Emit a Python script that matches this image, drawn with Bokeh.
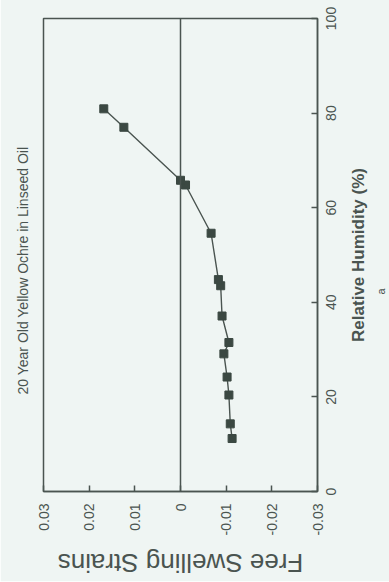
from bokeh.embed import file_html
from bokeh.models import FixedTicker, Range1d, Span, Title
from bokeh.plotting import figure
from bokeh.resources import INLINE

# Free swelling strain of 20 year old yellow ochre in linseed oil vs. relative humidity
rh = [11.2, 14.3, 20.4, 24.2, 29.1, 31.5, 37.1, 43.5, 44.8, 54.6, 64.8, 65.8, 77.0, 80.9]
strain = [-0.0113, -0.0109, -0.0106, -0.0102, -0.0095, -0.0106, -0.0091,
          -0.0088, -0.0083, -0.0067, -0.0011, 0.0000, 0.0124, 0.0168]

rh_ticks = [0, 20, 40, 60, 80, 100]
strain_ticks = [-0.03, -0.02, -0.01, 0.0, 0.01, 0.02, 0.03]
strain_tick_labels = ["-0.03", "-0.02", "-0.01", "0", "0.01", "0.02", "0.03"]

title_text = "20 Year Old Yellow Ochre in Linseed Oil"
rh_label = "Relative Humidity (%)"
strain_label = "Free Swelling Strains"
panel_tag = "a"

INK = "#4a5450"
MARK = "#3b4842"
BG = "#eff5f3"
FONT = "Liberation Sans"

# The chart is drawn landscape (582 x 389) and shown turned a quarter turn
# counter-clockwise.  Bokeh sizes its canvas from the element's on-screen box,
# which the turn swaps, so the element itself is declared portrait.
PAGE_W, PAGE_H = 389, 582
p = figure(width=PAGE_W, height=PAGE_H,
           x_range=Range1d(0, 100), y_range=Range1d(-0.03, 0.03),
           output_backend="svg", toolbar_location=None,
           min_border_left=87, min_border_right=19,
           min_border_top=43, min_border_bottom=72)
p.styles = {"transform": f"translate(0px, {PAGE_H}px) rotate(-90deg)",
            "transform-origin": "0 0"}

p.background_fill_color = BG
p.border_fill_color = BG
p.outline_line_color = INK
p.outline_line_width = 1.5
p.xgrid.visible = False
p.ygrid.visible = False

xa = p.xaxis[0]
xa.ticker = FixedTicker(ticks=rh_ticks)
xa.axis_label = rh_label
xa.axis_label_text_font_size = "17px"
xa.axis_label_text_font_style = "bold"
xa.major_label_standoff = 8
xa.axis_label_standoff = 10

ya = p.yaxis[0]
ya.ticker = FixedTicker(ticks=strain_ticks)
ya.major_label_overrides = dict(zip(strain_ticks, strain_tick_labels))
ya.axis_label = strain_label
ya.axis_label_text_font_size = "26px"
ya.axis_label_text_font_style = "normal"
ya.major_label_standoff = 12
ya.axis_label_standoff = 10

for ax in (xa, ya):
    ax.axis_line_color = INK
    ax.axis_line_width = 1.5
    ax.major_tick_line_color = INK
    ax.major_tick_line_width = 1.5
    ax.major_tick_in = 6
    ax.major_tick_out = 0
    ax.minor_tick_line_color = None
    ax.major_label_text_font = FONT
    ax.major_label_text_color = INK
    ax.major_label_text_font_size = "14px"
    ax.axis_label_text_font = FONT
    ax.axis_label_text_color = INK

p.add_layout(Title(text=title_text, align="left", offset=97, standoff=25,
                   text_font=FONT, text_font_size="14px", text_font_style="normal",
                   text_color=INK), "above")
p.add_layout(Title(text=panel_tag, align="left", offset=197, standoff=4,
                   text_font=FONT, text_font_size="11px", text_font_style="normal",
                   text_color=INK), "below")

p.add_layout(Span(location=0, dimension="width", line_color=INK, line_width=1.5))

p.line(rh, strain, line_color=INK, line_width=1.4)
p.scatter(rh, strain, marker="square", size=8, fill_color=MARK, line_color=MARK)

open("out.html", "w").write(file_html(p, INLINE))
